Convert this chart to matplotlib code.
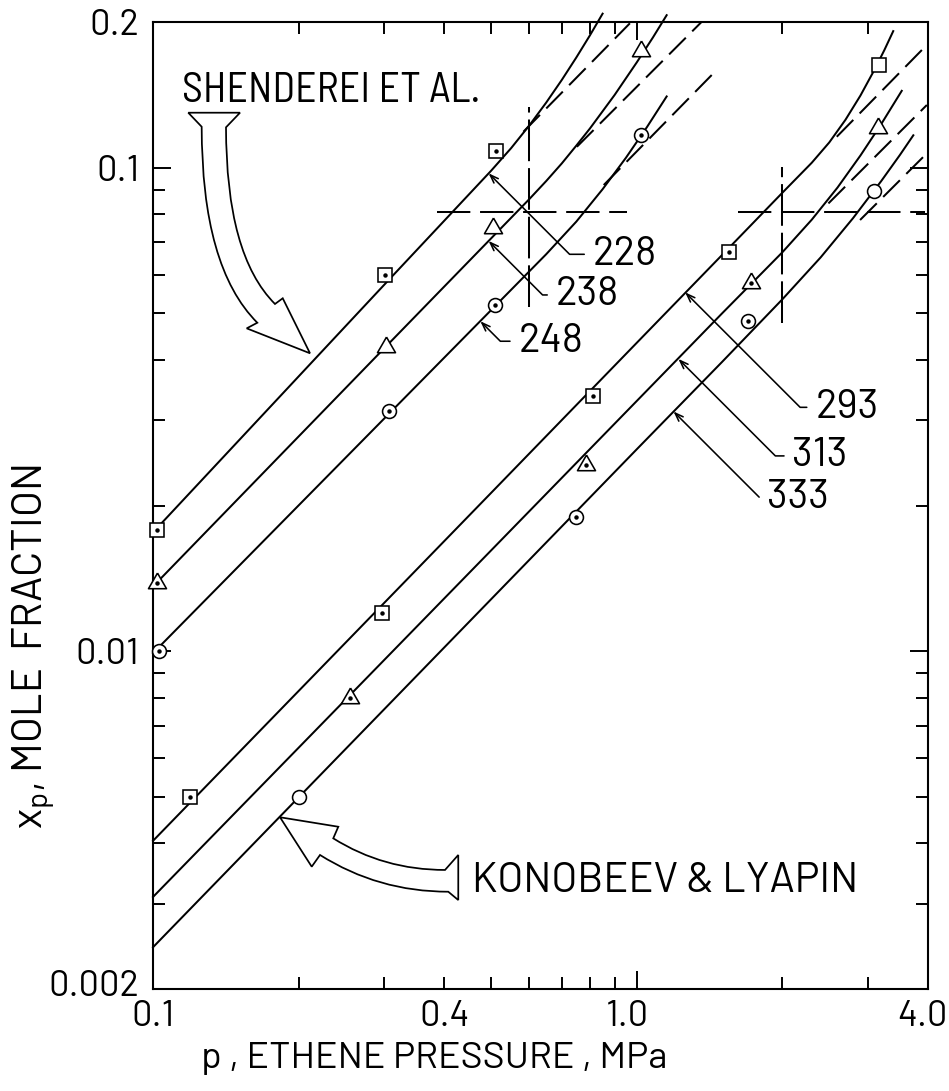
import matplotlib
matplotlib.use("Agg")
import matplotlib.pyplot as plt
import matplotlib.transforms as mtransforms
from matplotlib.path import Path
from matplotlib.patches import PathPatch
from matplotlib.ticker import FixedLocator, FixedFormatter, NullFormatter

FAMILY = ["Barlow", "Roboto", "DejaVu Sans"]
NARROW = ["Barlow Semi Condensed", "Roboto Condensed", "DejaVu Sans"]
plt.rcParams["font.family"] = FAMILY
plt.rcParams["mathtext.fontset"] = "custom"
plt.rcParams["mathtext.rm"] = FAMILY[0]
plt.rcParams["lines.scale_dashes"] = False

# ---------------- measured solubility points (p in MPa, x_p mole fraction)
# Shenderei et al.
p_228 = [0.102, 0.301, 0.511]
x_228 = [0.0178, 0.0599, 0.108]
p_238 = [0.102, 0.303, 0.505, 1.02]
x_238 = [0.0138, 0.0426, 0.0751, 0.174]
p_248 = [0.103, 0.307, 0.509, 1.02]
x_248 = [0.0100, 0.0313, 0.0520, 0.117]
# Konobeev & Lyapin
p_293 = [0.119, 0.297, 0.811, 1.55, 3.17]
x_293 = [0.0050, 0.0120, 0.0337, 0.0668, 0.163]
p_313 = [0.255, 0.785, 1.72, 3.16]
x_313 = [0.0080, 0.0243, 0.0576, 0.1205]
p_333 = [0.200, 0.748, 1.70, 3.10]
x_333 = [0.0050, 0.0189, 0.0482, 0.0896]

# which points carry a centre dot
dot_228 = [1, 1, 1]
dot_238 = [1, 0, 0, 0]
dot_248 = [1, 1, 1, 1]
dot_293 = [1, 1, 1, 1, 0]
dot_313 = [1, 1, 1, 0]
dot_333 = [0, 1, 1, 0]

# ---------------- correlated isotherms (solid)
cp_228 = [0.1, 0.3, 0.5, 0.55, 0.6, 0.65, 0.7, 0.75, 0.8, 0.85]
cx_228 = [0.0176, 0.0571, 0.0985, 0.1097, 0.1223, 0.1363, 0.1518, 0.1689, 0.1876, 0.2081]
cp_238 = [0.1, 0.3, 0.6, 0.65, 0.7, 0.75, 0.8, 0.9, 1.0, 1.08, 1.153]
cx_238 = [0.0136, 0.0422, 0.0861, 0.0938, 0.1020, 0.1110, 0.1204, 0.1413, 0.1650, 0.1858, 0.2066]
cp_248 = [0.1, 0.3, 0.65, 0.75, 0.85, 0.95, 1.05, 1.153]
cx_248 = [0.0099, 0.0302, 0.0662, 0.0773, 0.0902, 0.1048, 0.1213, 0.1403]
cp_293 = [0.1, 0.5, 1.0, 1.5, 2.0, 2.3, 2.5, 2.7, 2.9, 3.1, 3.25, 3.39]
cx_293 = [0.00405, 0.02124, 0.0434, 0.0659, 0.0887, 0.1023, 0.1127, 0.1255, 0.1409,
          0.1593, 0.175, 0.1915]
cp_313 = [0.1, 0.5, 1.0, 1.5, 2.0, 2.3, 2.6, 2.9, 3.2, 3.53]
cx_313 = [0.0031, 0.01615, 0.0329, 0.0499, 0.0668, 0.078, 0.0909, 0.1059, 0.1229, 0.1441]
cp_333 = [0.1, 0.5, 1.0, 1.5, 2.0, 2.4, 2.8, 3.2, 3.5, 3.73]
cx_333 = [0.00244, 0.0128, 0.02614, 0.0396, 0.0534, 0.0652, 0.0786, 0.0937, 0.1062, 0.1166]

# ---------------- linear (Henry-law) extrapolations (dashed)
ep_228 = [0.583, 0.968]
ex_228 = [0.1186, 0.1988]
ep_238 = [0.752, 1.363]
ex_238 = [0.1104, 0.2003]
ep_248 = [0.8545, 1.429]
ex_248 = [0.092, 0.1554]
ep_293 = [2.591, 3.945]
ex_293 = [0.1158, 0.1778]
ep_313 = [2.49, 3.978]
ex_313 = [0.0843, 0.1347]
ep_333 = [2.895, 3.978]
ex_333 = [0.0779, 0.107]

# ---------------- reference cross-hairs
cross_p = [0.6, 2.0]
cross_x = 0.081
cross_hspan = [(0.386, 0.955), (1.62, 3.945)]
cross_vspan = [(0.0515, 0.1335), (0.0477, 0.1003)]

# ---------------- isotherm labels (K) and the point on each curve they mark
labels = ["228", "238", "248", "293", "313", "333"]
label_tip_p = [0.494, 0.494, 0.475, 1.259, 1.219, 1.191]
label_tip_x = [0.0973, 0.0705, 0.0481, 0.0552, 0.0402, 0.0313]
label_offset_px = [(104, -81), (67, -54), (38, -20), (130, -115), (114, -97), (94, -86)]

# ---------------- axis ticks
x_major = [0.1, 0.4, 1.0, 4.0]
x_major_labels = ["0.1", "0.4", "1.0", "4.0"]
x_minor = [0.2, 0.3, 0.5, 0.6, 0.7, 0.8, 0.9, 2.0, 3.0]
y_major = [0.002, 0.01, 0.1, 0.2]
y_major_labels = ["0.002", "0.01", "0.1", "0.2"]
y_minor = [0.003, 0.004, 0.005, 0.006, 0.007, 0.008, 0.009,
           0.02, 0.03, 0.04, 0.05, 0.06, 0.07, 0.08, 0.09]

# ------------------------------------------------------------------
fig = plt.figure(figsize=(9.49, 10.91), dpi=100)
ax = fig.add_axes([0.16122, 0.09349, 0.81665, 0.88634])
ax.set_xscale("log")
ax.set_yscale("log")
ax.set_xlim(0.1, 4.0)
ax.set_ylim(0.002, 0.2)

LW = 1.45
K = "black"

square = "s"
triangle = [(0.0, 1.0), (-0.866, -0.5), (0.866, -0.5), (0.0, 1.0)]
circle = "o"

series = [
    (p_228, x_228, dot_228, cp_228, cx_228, ep_228, ex_228, square, 10.5),
    (p_238, x_238, dot_238, cp_238, cx_238, ep_238, ex_238, triangle, 15),
    (p_248, x_248, dot_248, cp_248, cx_248, ep_248, ex_248, circle, 10),
    (p_293, x_293, dot_293, cp_293, cx_293, ep_293, ex_293, square, 10.5),
    (p_313, x_313, dot_313, cp_313, cx_313, ep_313, ex_313, triangle, 15),
    (p_333, x_333, dot_333, cp_333, cx_333, ep_333, ex_333, circle, 10),
]

for p, x, dots, cp, cx, ep, ex, mk, ms in series:
    ax.plot(cp, cx, color=K, lw=LW, clip_on=False, zorder=2,
            solid_joinstyle="round")
    ax.plot(ep, ex, color=K, lw=LW, dashes=(17, 6.5), clip_on=False, zorder=2)
    ax.plot(p, x, linestyle="none", marker=mk, ms=ms, mfc="white", mec=K,
            mew=1.15, clip_on=False, zorder=3)
    dp = [pi for pi, d in zip(p, dots) if d]
    dx = [xi for xi, d in zip(x, dots) if d]
    ax.plot(dp, dx, linestyle="none", marker="o", ms=2.2, color=K,
            clip_on=False, zorder=4)

for cp_, (h0, h1), (v0, v1) in zip(cross_p, cross_hspan, cross_vspan):
    ax.plot([h0, h1], [cross_x, cross_x], color=K, lw=LW, dashes=(24, 7), zorder=2)
    ax.plot([cp_, cp_], [v0, v1], color=K, lw=LW, dashes=(30, 5), zorder=2)

for lab, tp, tx, off in zip(labels, label_tip_p, label_tip_x, label_offset_px):
    ax.annotate(lab, xy=(tp, tx), xycoords="data",
                xytext=off, textcoords="offset pixels",
                ha="left", va="center", fontsize=29,
                arrowprops=dict(arrowstyle="->,head_length=0.6,head_width=0.22",
                                connectionstyle="angle,angleA=0,angleB=-45,rad=0",
                                relpos=(0.0, 0.5), shrinkA=4, shrinkB=0,
                                color=K, lw=1.15, mutation_scale=10))

# hollow pointer arrows naming the two data sources (axes fraction coords)
M, L, C3, CP = Path.MOVETO, Path.LINETO, Path.CURVE3, Path.CLOSEPOLY
shenderei_arrow = Path(
    [(0.0455, 0.9062), (0.1123, 0.9062), (0.0942, 0.8911),
     (0.0942, 0.7590), (0.1574, 0.7084),
     (0.1674, 0.7143), (0.2026, 0.6574), (0.1209, 0.6832), (0.1346, 0.6890),
     (0.0628, 0.7465), (0.0628, 0.8917), (0.0455, 0.9062)],
    [M, L, L, C3, C3, L, L, L, L, C3, C3, CP])
konobeev_arrow = Path(
    [(0.1639, 0.1776), (0.2391, 0.1678), (0.2326, 0.1558),
     (0.2975, 0.1231), (0.3768, 0.1231),
     (0.3939, 0.1386), (0.3939, 0.0920), (0.3810, 0.1006),
     (0.2907, 0.1006), (0.2155, 0.1386),
     (0.2048, 0.1265), (0.1639, 0.1776)],
    [M, L, L, C3, C3, L, L, L, C3, C3, L, CP])
for path in (shenderei_arrow, konobeev_arrow):
    ax.add_patch(PathPatch(path, transform=ax.transAxes, facecolor="white",
                           edgecolor=K, lw=1.25, zorder=5, joinstyle="miter"))

ax.text(0.0374, 0.9173, "SHENDEREI ET AL.", transform=ax.transAxes,
        fontsize=30, family=NARROW, ha="left", va="baseline")
ax.text(0.4112, 0.1006, "KONOBEEV & LYAPIN", transform=ax.transAxes,
        fontsize=30, ha="left", va="baseline")

# axes, ticks
for s in ax.spines.values():
    s.set_linewidth(1.5)
ax.xaxis.set_major_locator(FixedLocator(x_major))
ax.xaxis.set_major_formatter(FixedFormatter(x_major_labels))
ax.xaxis.set_minor_locator(FixedLocator(x_minor))
ax.xaxis.set_minor_formatter(NullFormatter())
ax.yaxis.set_major_locator(FixedLocator(y_major))
ax.yaxis.set_major_formatter(FixedFormatter(y_major_labels))
ax.yaxis.set_minor_locator(FixedLocator(y_minor))
ax.yaxis.set_minor_formatter(NullFormatter())
ax.tick_params(which="both", direction="in", top=True, right=True, width=1.4,
               colors=K)
ax.tick_params(which="major", length=13)
ax.tick_params(which="minor", length=8.6)
ax.tick_params(axis="x", which="major", labelsize=26, pad=8)
ax.tick_params(axis="y", which="major", labelsize=26, pad=10)

xticks = ax.xaxis.get_major_ticks()
yticks = ax.yaxis.get_major_ticks()
xticks[1].tick1line.set_markersize(8.6)
xticks[1].tick2line.set_markersize(8.6)


def nudge(label, dx_pt, dy_pt):
    label.set_transform(label.get_transform() +
                        mtransforms.ScaledTranslation(dx_pt / 72, dy_pt / 72,
                                                      fig.dpi_scale_trans))


nudge(xticks[2].label1, -7, 0)     # "1.0"
nudge(xticks[3].label1, -4, 0)     # "4.0" kept inside the canvas
nudge(yticks[0].label1, 0, 4.5)    # "0.002" sits above the corner

fig.text(667 / 949, 1 - 1068 / 1091, "p , ETHENE PRESSURE , MPa",
         fontsize=27, ha="right", va="baseline")
fig.text(42 / 949, 1 - 647 / 1091, r"$\mathregular{x_p}$, MOLE  FRACTION",
         fontsize=30, rotation=90, rotation_mode="anchor",
         ha="center", va="baseline")

fig.savefig("out.png", dpi=100)
